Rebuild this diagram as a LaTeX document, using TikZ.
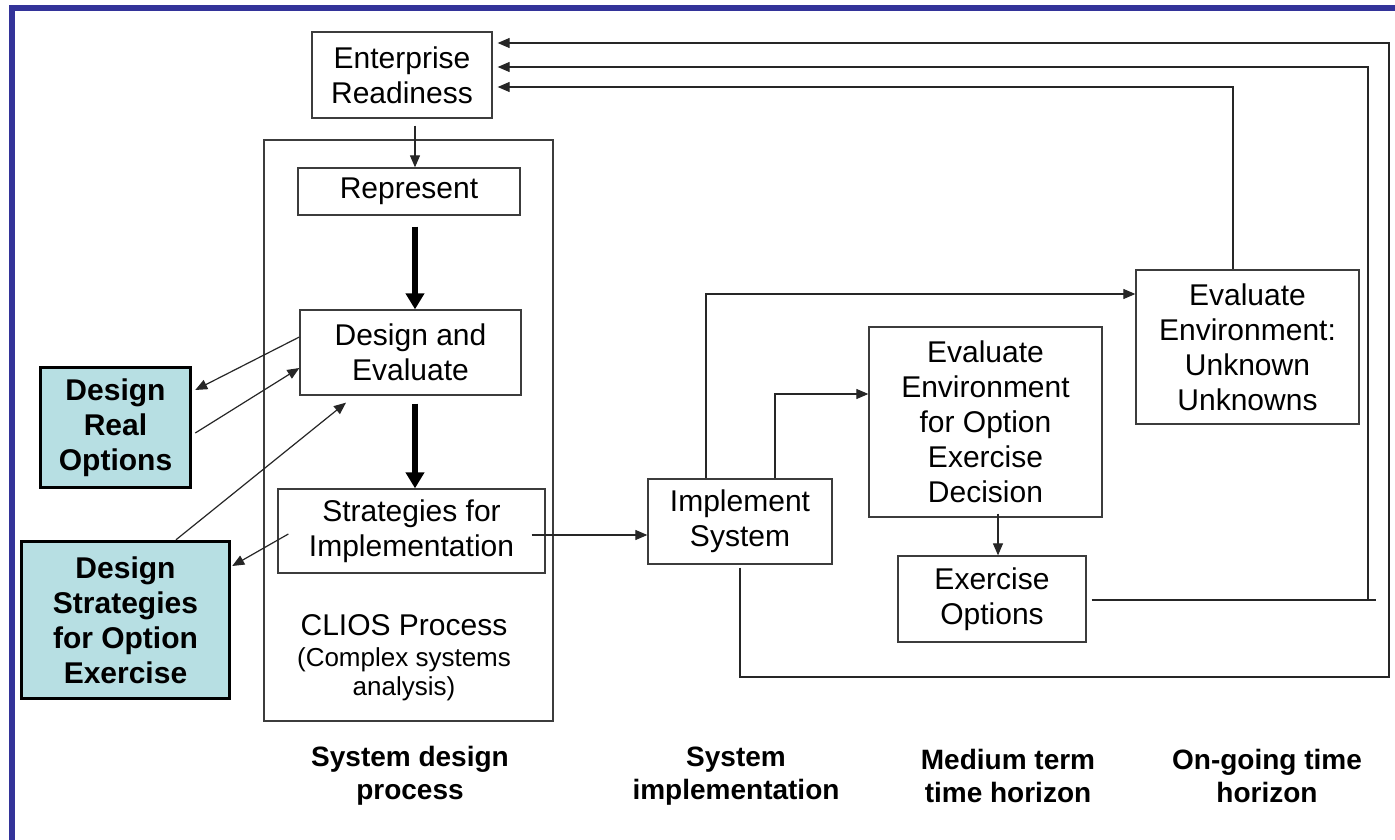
\documentclass[tikz,border=0pt]{standalone}
\usepackage{fontspec}
\setmainfont{Liberation Sans}
\usetikzlibrary{arrows.meta,calc}
\definecolor{frameblue}{RGB}{51,51,153}
\definecolor{optcyan}{RGB}{183,223,227}
\definecolor{boxgray}{RGB}{60,60,60}
\begin{document}
\begin{tikzpicture}[x=1pt,y=-1pt,
  box/.style={draw=boxgray,line width=1.3pt,fill=white,inner sep=0pt,align=center,font=\fontsize{30}{35}\selectfont},
  optbox/.style={draw=black,line width=3.5pt,fill=optcyan,inner sep=0pt,align=center,font=\fontsize{30}{35}\selectfont\bfseries},
  conn/.style={line width=1.2pt,draw=black!85},
  arr/.style={conn,-{Triangle[length=12pt,width=10pt]}},
  bigarr/.style={line width=6pt,-{Triangle[length=16pt,width=18pt]}},
  lbl/.style={align=center,inner sep=0pt,font=\fontsize{28}{33}\selectfont\bfseries}]
\useasboundingbox (0,0) rectangle (1395,840);
\fill[white] (0,0) rectangle (1395,840);
\fill[frameblue] (9,5) rectangle (1395,11);
\fill[frameblue] (9,5) rectangle (15,840);

% CLIOS frame
\node[draw=boxgray,line width=1.3pt,minimum width=289pt,minimum height=581pt,inner sep=0pt] (clios) at (408.5,430.5) {};

% boxes
\node[box,minimum width=180pt,minimum height=86pt] (ER) at (402,75) {Enterprise\\Readiness};
\node[box,minimum width=222pt,minimum height=47pt] (Rep) at (409,191.5) {Represent};
\node[box,minimum width=221pt,minimum height=85pt] (DE) at (410.5,352.5) {Design and\\Evaluate};
\node[box,minimum width=267pt,minimum height=84pt] (Str) at (411.5,531) {Strategies for\\Implementation};
\node[optbox,minimum width=150pt,minimum height=120pt] (DRO) at (115.5,427.5) {Design\\Real\\Options};
\node[optbox,minimum width=208pt,minimum height=157pt] (DSOE) at (125.5,620) {Design\\Strategies\\for Option\\Exercise};
\node[box,minimum width=184pt,minimum height=85pt] (Impl) at (740,521.5) {Implement\\System};
\node[box,minimum width=233pt,minimum height=190pt] (EEO) at (985.5,422) {Evaluate\\Environment\\for Option\\Exercise\\Decision};
\node[box,minimum width=223pt,minimum height=154pt] (EUU) at (1247.5,347) {Evaluate\\Environment:\\Unknown\\Unknowns};
\node[box,minimum width=188pt,minimum height=86pt] (EO) at (992,599) {Exercise\\Options};

% CLIOS texts
\node[anchor=base,inner sep=0pt,font=\fontsize{30}{35}\selectfont] (cliosT) at (404,635) {CLIOS Process};
\node[anchor=base,inner sep=0pt,font=\fontsize{26}{30}\selectfont] (cliosA) at (404,666) {(Complex systems};
\node[anchor=base,inner sep=0pt,font=\fontsize{26}{30}\selectfont] (cliosB) at (404,695) {analysis)};

% bottom labels
\node[lbl] (L1) at (410,776) {System design\\process};
\node[lbl] (L2) at (736,776) {System\\implementation};
\node[lbl] (L3) at (1008,776) {Medium term\\time horizon};
\node[lbl] (L4) at (1267,776) {On-going time\\horizon};

% main flow
\draw[arr] ([xshift=13pt,yshift=-7pt]ER.south) -- ([xshift=6pt]Rep.north);
\draw[bigarr] ([xshift=6pt,yshift=-11pt]Rep.south) -- ([xshift=4.5pt]DE.north);
\draw[bigarr] ([xshift=4.5pt,yshift=-8pt]DE.south) -- ([xshift=3.5pt]Str.north);

% side arrows
\draw[arr] ([yshift=15.5pt]DE.west) -- ([xshift=3pt,yshift=37.5pt]DRO.east);
\draw[arr] ([xshift=3pt,yshift=-5.5pt]DRO.east) -- ([yshift=-15.5pt]DE.west);
\draw[arr] ([xshift=50.5pt]DSOE.north) -- ([xshift=-64.5pt,yshift=-7pt]DE.south);
\draw[arr] ([xshift=11pt,yshift=-3pt]Str.west) -- ([xshift=1pt,yshift=54pt]DSOE.east);

% implementation
\coordinate (s0) at ([xshift=-14pt,yshift=-4pt]Str.east);
\draw[arr] (s0) -- (s0 -| Impl.west);
\draw[arr] ([xshift=-34pt]Impl.north) |- ([yshift=53pt]EUU.west);
\draw[arr] ([xshift=35pt]Impl.north) |- ([yshift=28pt]EEO.west);
\draw[arr] ([xshift=12.5pt,yshift=4pt]EEO.south) -- ([xshift=6pt]EO.north);

% feedback loops
\coordinate (r1) at (1389,677);
\coordinate (r2) at (1368,600);
\coordinate (r2end) at (1376,600);
\draw[arr] ([yshift=-3pt]Impl.south) |- (r1) |- ([xshift=5pt,yshift=32pt]ER.east);
\draw[conn] ([xshift=5pt,yshift=-1pt]EO.east) -- (r2end);
\draw[arr] (r2) |- ([xshift=5pt,yshift=8pt]ER.east);
\draw[arr] ([xshift=-14.5pt]EUU.north) |- ([xshift=5pt,yshift=-12pt]ER.east);
\end{tikzpicture}
\end{document}
